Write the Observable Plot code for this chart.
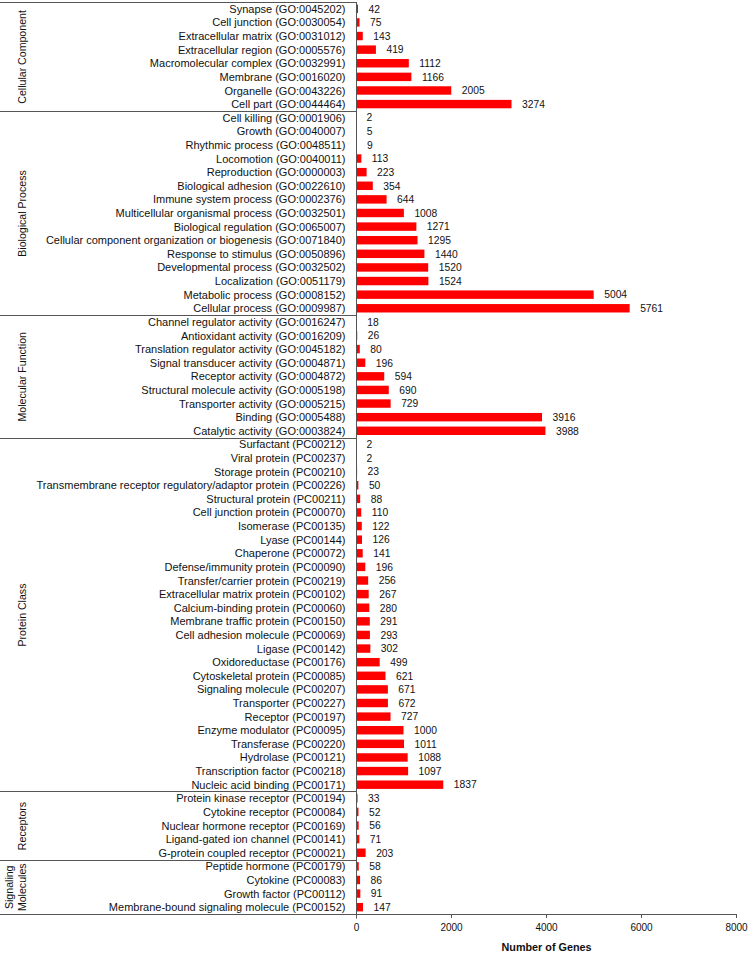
<!DOCTYPE html>
<html>
<head>
<meta charset="utf-8">
<script src="https://cdn.jsdelivr.net/npm/d3@7"></script>
<script src="https://cdn.jsdelivr.net/npm/@observablehq/plot@0.6"></script>
<style>
  html, body { margin: 0; padding: 0; background: #fff; }
  #chart { width: 750px; height: 954px; }
</style>
</head>
<body>
<div id="chart"></div>
<script>
// ---- Data ----
const groupNames = ["Cellular Component", "Biological Process", "Molecular Function", "Protein Class", "Receptors", "Signaling\nMolecules"];

const ccLabels = ["Synapse (GO:0045202)", "Cell junction (GO:0030054)", "Extracellular matrix (GO:0031012)", "Extracellular region (GO:0005576)", "Macromolecular complex (GO:0032991)", "Membrane (GO:0016020)", "Organelle (GO:0043226)", "Cell part (GO:0044464)"];
const ccValues = [42, 75, 143, 419, 1112, 1166, 2005, 3274];

const bpLabels = ["Cell killing (GO:0001906)", "Growth (GO:0040007)", "Rhythmic process (GO:0048511)", "Locomotion (GO:0040011)", "Reproduction (GO:0000003)", "Biological adhesion (GO:0022610)", "Immune system process (GO:0002376)", "Multicellular organismal process (GO:0032501)", "Biological regulation (GO:0065007)", "Cellular component organization or biogenesis (GO:0071840)", "Response to stimulus (GO:0050896)", "Developmental process (GO:0032502)", "Localization (GO:0051179)", "Metabolic process (GO:0008152)", "Cellular process (GO:0009987)"];
const bpValues = [2, 5, 9, 113, 223, 354, 644, 1008, 1271, 1295, 1440, 1520, 1524, 5004, 5761];

const mfLabels = ["Channel regulator activity (GO:0016247)", "Antioxidant activity (GO:0016209)", "Translation regulator activity (GO:0045182)", "Signal transducer activity (GO:0004871)", "Receptor activity (GO:0004872)", "Structural molecule activity (GO:0005198)", "Transporter activity (GO:0005215)", "Binding (GO:0005488)", "Catalytic activity (GO:0003824)"];
const mfValues = [18, 26, 80, 196, 594, 690, 729, 3916, 3988];

const pcLabels = ["Surfactant (PC00212)", "Viral protein (PC00237)", "Storage protein (PC00210)", "Transmembrane receptor regulatory/adaptor protein (PC00226)", "Structural protein (PC00211)", "Cell junction protein (PC00070)", "Isomerase (PC00135)", "Lyase (PC00144)", "Chaperone (PC00072)", "Defense/immunity protein (PC00090)", "Transfer/carrier protein (PC00219)", "Extracellular matrix protein (PC00102)", "Calcium-binding protein (PC00060)", "Membrane traffic protein (PC00150)", "Cell adhesion molecule (PC00069)", "Ligase (PC00142)", "Oxidoreductase (PC00176)", "Cytoskeletal protein (PC00085)", "Signaling molecule (PC00207)", "Transporter (PC00227)", "Receptor (PC00197)", "Enzyme modulator (PC00095)", "Transferase (PC00220)", "Hydrolase (PC00121)", "Transcription factor (PC00218)", "Nucleic acid binding (PC00171)"];
const pcValues = [2, 2, 23, 50, 88, 110, 122, 126, 141, 196, 256, 267, 280, 291, 293, 302, 499, 621, 671, 672, 727, 1000, 1011, 1088, 1097, 1837];

const rcLabels = ["Protein kinase receptor (PC00194)", "Cytokine receptor (PC00084)", "Nuclear hormone receptor (PC00169)", "Ligand-gated ion channel (PC00141)", "G-protein coupled receptor (PC00021)"];
const rcValues = [33, 52, 56, 71, 203];

const smLabels = ["Peptide hormone (PC00179)", "Cytokine (PC00083)", "Growth factor (PC00112)", "Membrane-bound signaling molecule (PC00152)"];
const smValues = [58, 86, 91, 147];

const xTicks = [0, 2000, 4000, 6000, 8000];
const xTitle = "Number of Genes";

// ---- Build table ----
const groupLabelLists = [ccLabels, bpLabels, mfLabels, pcLabels, rcLabels, smLabels];
const groupValueLists = [ccValues, bpValues, mfValues, pcValues, rcValues, smValues];
const rows = [];
const groups = [];
groupLabelLists.forEach((labels, g) => {
  const start = rows.length;
  labels.forEach((label, k) => rows.push({i: rows.length, label, value: groupValueLists[g][k], group: groupNames[g]}));
  groups.push({name: groupNames[g], start, end: rows.length - 1});
});
const boundaries = [-0.5, ...groups.map(g => g.end + 0.5)];
const lastBoundary = boundaries[boundaries.length - 1];

function frameLines(...args) {
  const s = (args[0] && typeof args[0].x === "function") ? args[0] : args[1];
  const x = s.x, y = s.y;
  const g = d3.create("svg:g").attr("stroke", "#555").attr("fill", "none").attr("stroke-width", 1);
  const x0 = Math.round(x(0)) + 0.5;
  for (const b of boundaries) {
    const yy = Math.round(y(b)) + 0.5;
    g.append("line").attr("x1", 0).attr("x2", b === lastBoundary ? x(xTicks[xTicks.length - 1]) : x0).attr("y1", yy).attr("y2", yy);
  }
  g.append("line").attr("x1", x0).attr("x2", x0).attr("y1", Math.round(y(-0.5))).attr("y2", Math.round(y(lastBoundary)) + 4.5);
  return g.node();
}

const chart = Plot.plot({
  width: 750,
  height: 954,
  marginLeft: 356,
  marginRight: 14,
  marginTop: 2,
  marginBottom: 40,
  style: {fontFamily: '"Liberation Sans", Arial, sans-serif', background: "#fff", color: "#000", overflow: "visible"},
  x: {domain: [0, 8000]},
  y: {domain: [-0.5, rows.length - 0.5], reverse: true},
  marks: [
    Plot.rect(rows, {x1: 0, x2: "value", y1: d => d.i - 0.31, y2: d => d.i + 0.31, fill: "#ff0000"}),
    Plot.text(rows, {x: "value", y: "i", text: d => String(d.value), textAnchor: "start", dx: 10, fontSize: 10.3, fill: "#111"}),
    Plot.axisY(rows.map(d => d.i), {tickSize: 0, tickPadding: 11, tickFormat: i => rows[i].label, fontSize: 11, label: null, fill: "#111"}),
    Plot.axisX(xTicks, {tickSize: 4, tickPadding: 5, fontSize: 10, label: null, stroke: "#555", fill: "#111", tickFormat: d => String(d)}),
    frameLines,
    Plot.text(groups, {y: d => (d.start + d.end) / 2, text: "name", rotate: -90, frameAnchor: "left", textAnchor: "middle", lineAnchor: "bottom", dx: 25.5 - 356, fontSize: 10.6, lineHeight: 1.2, fill: "#111"}),
    Plot.text([xTitle], {frameAnchor: "bottom", dy: 36, fontWeight: "bold", fontSize: 10.8, fill: "#111"})
  ]
});
document.getElementById("chart").appendChild(chart);
</script>
</body>
</html>
